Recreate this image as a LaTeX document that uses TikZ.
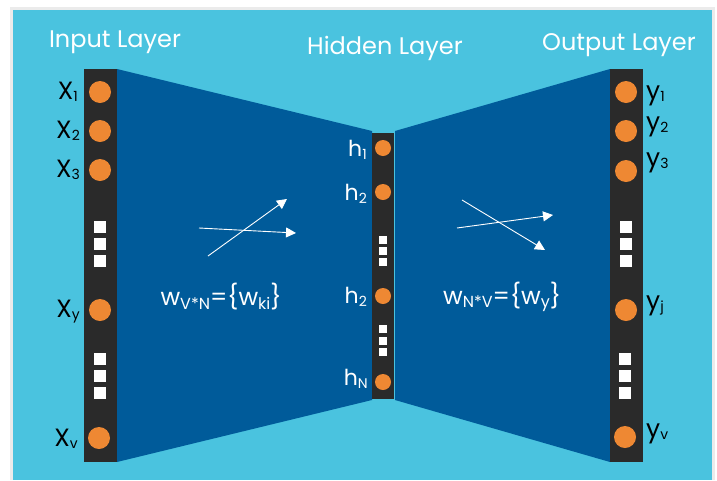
\documentclass[tikz,border=0pt]{standalone}
\usepackage{fontspec}
\setmainfont{Poppins}
\usetikzlibrary{arrows.meta}
\definecolor{lightbg}{HTML}{4AC3DF}
\definecolor{deepblue}{HTML}{005B9A}
\definecolor{barcol}{HTML}{2A2A2A}
\definecolor{neuroncol}{HTML}{EE8833}
\newcommand{\lsub}[1]{\raisebox{-2pt}{\fontsize{14}{14}\selectfont #1}}
\newcommand{\hsub}[1]{\raisebox{-3pt}{\fontsize{14}{14}\selectfont #1}}
\newcommand{\fsub}[1]{\raisebox{-3.5pt}{\fontsize{16}{16}\selectfont #1}}
\tikzset{
  neuron/.style={circle,fill=neuroncol,minimum size=22pt,inner sep=0pt},
  hneuron/.style={circle,fill=neuroncol,minimum size=16pt,inner sep=0pt},
  dotsq/.style={rectangle,fill=white,minimum size=12pt,inner sep=0pt},
  hdotsq/.style={rectangle,fill=white,minimum size=8pt,inner sep=0pt},
  title/.style={text=white,font=\fontsize{24}{24}\selectfont,inner sep=0pt},
  xlab/.style={text=black,font=\fontsize{25}{25}\selectfont,inner sep=0pt,anchor=east},
  ylab/.style={text=black,font=\fontsize{25}{25}\selectfont,inner sep=0pt,anchor=west},
  hlab/.style={text=white,font=\fontsize{22}{22}\selectfont,inner sep=0pt,anchor=east},
  formula/.style={text=white,font=\fontsize{24}{24}\selectfont,inner sep=0pt},
  warrow/.style={draw=white,line width=0.9pt,-{Triangle[length=10pt,width=10pt]}}
}
\begin{document}
\begin{tikzpicture}[x=1pt,y=-1pt]
\useasboundingbox (0,0) rectangle (717,480);
\fill[white] (0,0) rectangle (717,480);
\fill[black!8] (10,7) rectangle (715,480);
\fill[lightbg] (13,10) rectangle (712,480);
% trapezoids
\fill[deepblue] (117,69) -- (372,131) -- (372,400) -- (117,462) -- cycle;
\fill[deepblue] (395,131) -- (610,69) -- (610,462) -- (395,400) -- cycle;
% bars
\fill[barcol] (84,69) rectangle (117,462);
\fill[barcol] (372,133) rectangle (394,399);
\fill[barcol] (610,69) rectangle (643,462);
% titles
\node[title] (tin) at (115,42) {Input Layer};
\node[title] (thid) at (385,48) {Hidden Layer};
\node[title] (tout) at (619,45) {Output Layer};
% input neurons
\node[neuron] (x1) at (100,92) {};
\node[neuron] (x2) at (100,131) {};
\node[neuron] (x3) at (100,170) {};
\node[dotsq] (xs1) at (100,227) {};
\node[dotsq] (xs2) at (100,244) {};
\node[dotsq] (xs3) at (100,261) {};
\node[neuron] (xy) at (100,310) {};
\node[dotsq] (xs4) at (100,359) {};
\node[dotsq] (xs5) at (100,376) {};
\node[dotsq] (xs6) at (100,393) {};
\node[neuron] (xv) at (99,438) {};
\node[xlab] (lx1) at (78,92) {X\lsub{1}};
\node[xlab] (lx2) at (80,131) {X\lsub{2}};
\node[xlab] (lx3) at (80,170) {X\lsub{3}};
\node[xlab] (lxy) at (80,312) {X\lsub{y}};
\node[xlab] (lxv) at (78,439) {X\lsub{v}};
% hidden neurons
\node[hneuron] (h1) at (383,148) {};
\node[hneuron] (h2) at (383,192) {};
\node[hdotsq] (hs1) at (383,240) {};
\node[hdotsq] (hs2) at (383,251) {};
\node[hdotsq] (hs3) at (383,262) {};
\node[hneuron] (h3) at (383,296) {};
\node[hdotsq] (hs4) at (383,329) {};
\node[hdotsq] (hs5) at (383,341) {};
\node[hdotsq] (hs6) at (383,352) {};
\node[hneuron] (hn) at (383,382) {};
\node[hlab] (lh1) at (367,150) {h\hsub{1}};
\node[hlab] (lh2) at (367,194) {h\hsub{2}};
\node[hlab] (lh3) at (367,297) {h\hsub{2}};
\node[hlab] (lhn) at (368,379) {h\hsub{N}};
% output neurons
\node[neuron] (y1) at (626,92) {};
\node[neuron] (y2) at (626,131) {};
\node[neuron] (y3) at (626,171) {};
\node[dotsq] (ys1) at (626,227) {};
\node[dotsq] (ys2) at (626,244) {};
\node[dotsq] (ys3) at (626,261) {};
\node[neuron] (yj) at (626,310) {};
\node[dotsq] (ys4) at (625,359) {};
\node[dotsq] (ys5) at (625,376) {};
\node[dotsq] (ys6) at (625,393) {};
\node[neuron] (yv) at (625,437) {};
\node[ylab] (ly1) at (646,96) {y\lsub{1}};
\node[ylab] (ly2) at (646,127) {y\lsub{2}};
\node[ylab] (ly3) at (646,163) {y\lsub{3}};
\node[ylab] (lyj) at (646,306) {y\lsub{j}};
\node[ylab] (lyv) at (646,434) {y\lsub{v}};
% formulas
\node[formula] (fl) at (221,297) {w\fsub{V*N}=\{w\fsub{ki}\}};
\node[formula] (fr) at (502,297) {w\fsub{N*V}=\{w\fsub{y}\}};
% arrows
\coordinate (a1s) at (199,228);
\coordinate (a1e) at (296,233);
\coordinate (a2s) at (208,256);
\coordinate (a2e) at (287,199);
\coordinate (b1s) at (457,228);
\coordinate (b1e) at (553,215);
\coordinate (b2s) at (462,200);
\coordinate (b2e) at (545,250);
\draw[warrow] (a1s) -- (a1e);
\draw[warrow] (a2s) -- (a2e);
\draw[warrow] (b1s) -- (b1e);
\draw[warrow] (b2s) -- (b2e);
\end{tikzpicture}
\end{document}
